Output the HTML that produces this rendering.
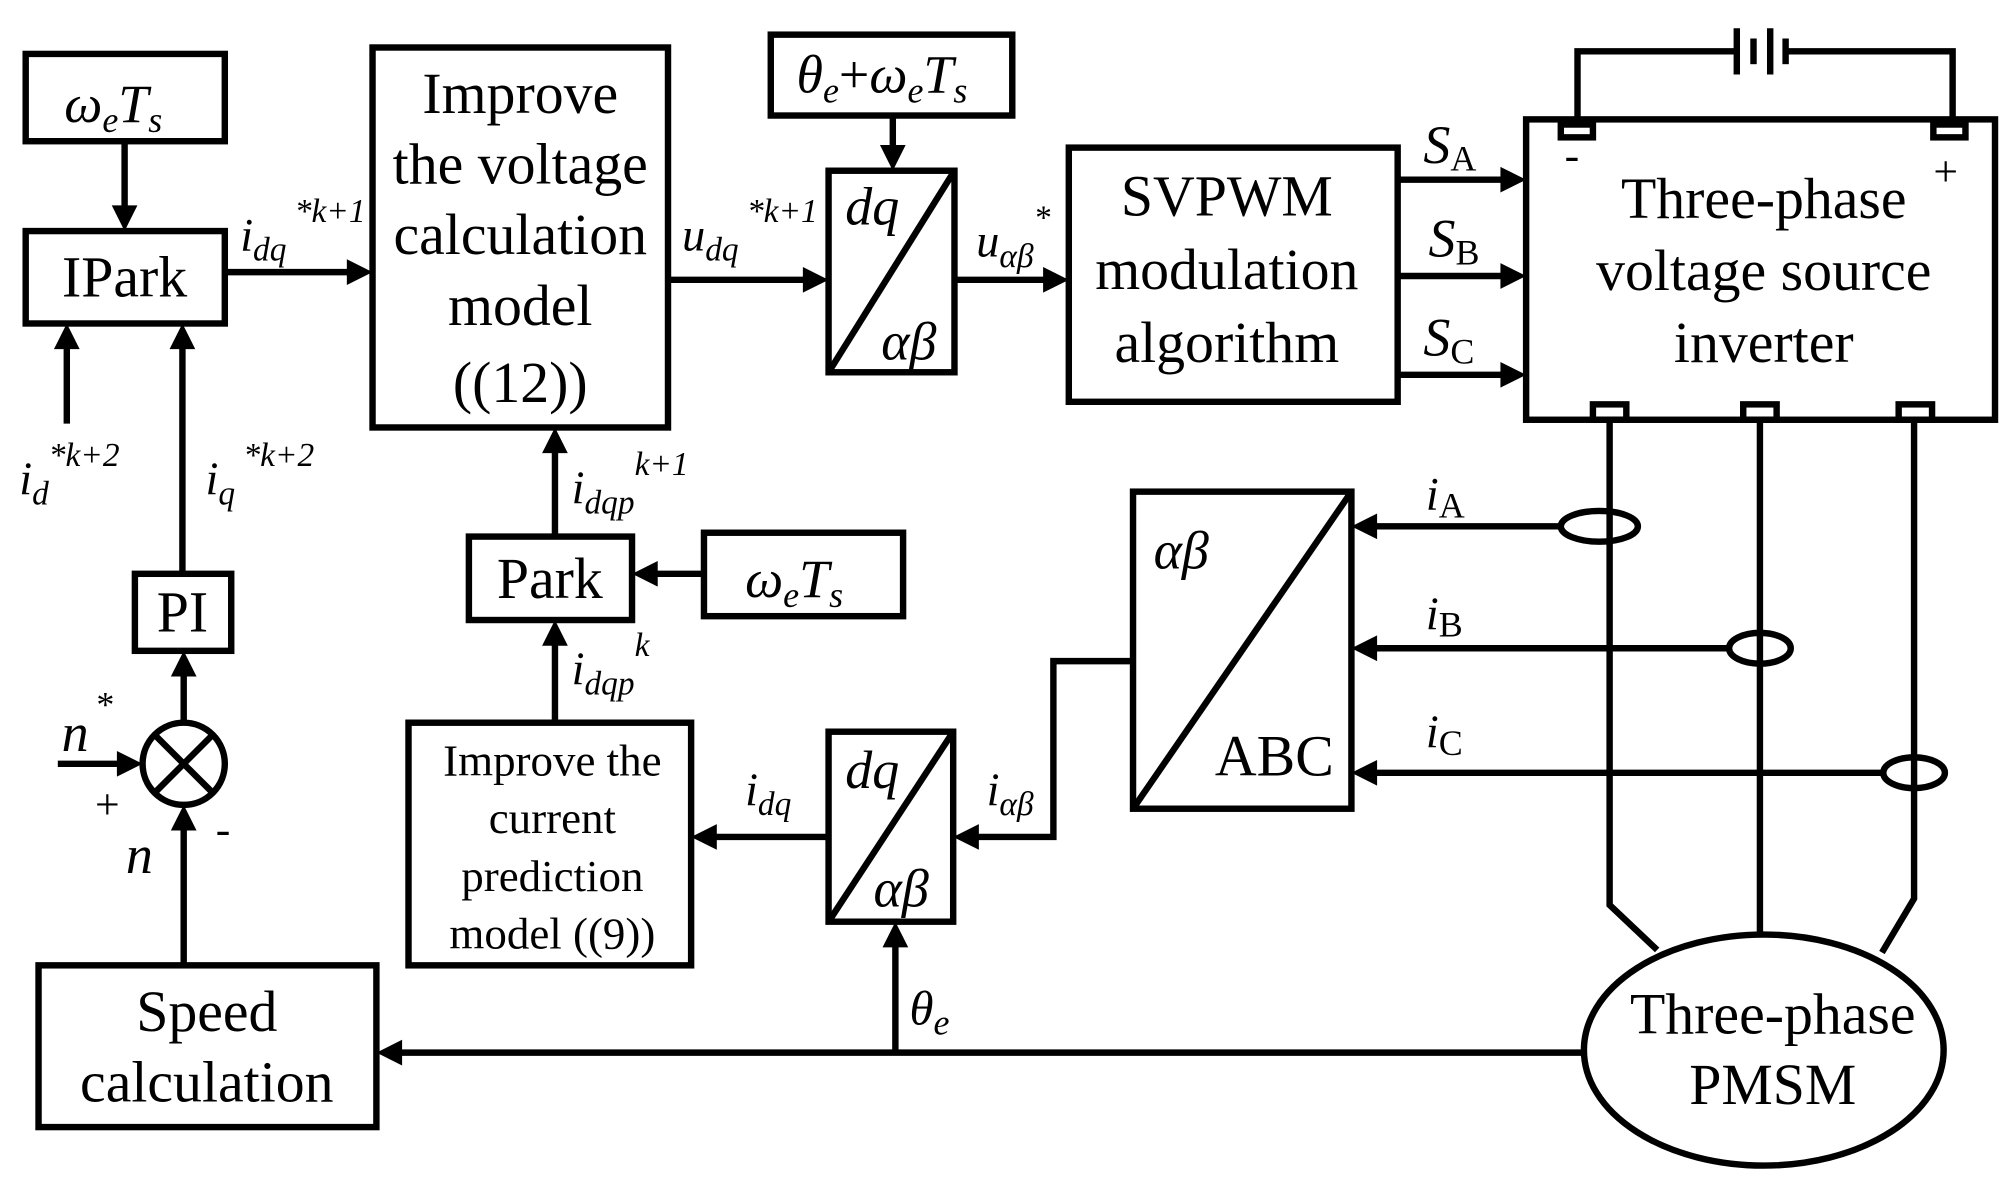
<!DOCTYPE html>
<html><head><meta charset="utf-8"><style>html,body{margin:0;padding:0;background:#fff}svg{display:block}</style></head>
<body>
<svg width="2004" height="1181" viewBox="0 0 1560 920" preserveAspectRatio="none" xmlns="http://www.w3.org/2000/svg" style="font-family:'Liberation Serif',serif">
<g fill="none" stroke="#000" stroke-width="5">
<rect x="20" y="42" width="155" height="68"/>
<rect x="20" y="180" width="155" height="72"/>
<rect x="105" y="447" width="75" height="60"/>
<circle cx="143" cy="595" r="32"/>
<line x1="120" y1="572" x2="166" y2="618"/><line x1="166" y1="572" x2="120" y2="618"/>
<rect x="30" y="752" width="263" height="126"/>
<rect x="290" y="37" width="230" height="296"/>
<rect x="645" y="133" width="98" height="157"/><line x1="645" y1="290" x2="743" y2="133"/>
<rect x="600" y="27" width="188" height="63"/>
<rect x="832" y="115" width="256" height="198"/>
<rect x="1188" y="93" width="365" height="234"/>
<rect x="1215" y="97" width="25" height="10"/><rect x="1505" y="97" width="25" height="10"/>
<rect x="1240" y="315" width="26" height="12"/><rect x="1357" y="315" width="26" height="12"/><rect x="1478" y="315" width="26" height="12"/>
<polyline points="1228,97 1228,40 1350,40"/><polyline points="1390,40 1520,40 1520,97"/>
<line x1="1352" y1="22" x2="1352" y2="58"/><line x1="1365" y1="30" x2="1365" y2="50"/><line x1="1378" y1="22" x2="1378" y2="58"/><line x1="1390" y1="30" x2="1390" y2="50"/>
<polyline points="1253,327 1253,705 1290,740"/>
<polyline points="1370,327 1370,728"/>
<polyline points="1490,327 1490,700 1465,742"/>
<ellipse cx="1373" cy="818" rx="140" ry="90"/>
<ellipse cx="1245" cy="410" rx="30" ry="12"/>
<ellipse cx="1370" cy="505" rx="24" ry="12"/>
<ellipse cx="1490" cy="602" rx="24" ry="12"/>
<rect x="882" y="383" width="170" height="247"/><line x1="882" y1="630" x2="1052" y2="383"/>
<rect x="645" y="570" width="97" height="148"/><line x1="645" y1="718" x2="742" y2="570"/>
<rect x="318" y="563" width="220" height="189"/>
<rect x="365" y="418" width="127" height="65"/>
<rect x="548" y="415" width="155" height="65"/>
<line x1="97" y1="110" x2="97" y2="165"/>
<line x1="52" y1="330" x2="52" y2="267"/>
<line x1="142" y1="447" x2="142" y2="267"/>
<line x1="143" y1="563" x2="143" y2="522"/>
<line x1="45" y1="595" x2="96" y2="595"/>
<line x1="143" y1="752" x2="143" y2="642"/>
<line x1="175" y1="212" x2="275" y2="212"/>
<line x1="520" y1="218" x2="630" y2="218"/>
<line x1="695" y1="90" x2="695" y2="118"/>
<line x1="743" y1="218" x2="815" y2="218"/>
<line x1="1088" y1="140" x2="1172" y2="140"/><line x1="1088" y1="215" x2="1172" y2="215"/><line x1="1088" y1="292" x2="1172" y2="292"/>
<line x1="1215" y1="410" x2="1067" y2="410"/><line x1="1346" y1="505" x2="1067" y2="505"/><line x1="1466" y1="602" x2="1067" y2="602"/>
<polyline points="882,515 820,515 820,652 757,652"/>
<line x1="645" y1="652" x2="553" y2="652"/>
<line x1="432" y1="563" x2="432" y2="498"/>
<line x1="548" y1="447" x2="507" y2="447"/>
<line x1="432" y1="418" x2="432" y2="348"/>
<line x1="1233" y1="820" x2="308" y2="820"/>
<line x1="697" y1="820" x2="697" y2="733"/>
</g>
<g fill="#000">
<path d="M87,160 L107,160 L97,180Z"/>
<path d="M42,272 L62,272 L52,252Z"/>
<path d="M132,272 L152,272 L142,252Z"/>
<path d="M133,527 L153,527 L143,507Z"/>
<path d="M91,585 L91,605 L111,595Z"/>
<path d="M133,647 L153,647 L143,627Z"/>
<path d="M270,202 L270,222 L290,212Z"/>
<path d="M625,208 L625,228 L645,218Z"/>
<path d="M685,113 L705,113 L695,133Z"/>
<path d="M812,208 L812,228 L832,218Z"/>
<path d="M1168,130 L1168,150 L1188,140Z"/><path d="M1168,205 L1168,225 L1188,215Z"/><path d="M1168,282 L1168,302 L1188,292Z"/>
<path d="M1072,400 L1072,420 L1052,410Z"/><path d="M1072,495 L1072,515 L1052,505Z"/><path d="M1072,592 L1072,612 L1052,602Z"/>
<path d="M762,642 L762,662 L742,652Z"/>
<path d="M558,642 L558,662 L538,652Z"/>
<path d="M422,503 L442,503 L432,483Z"/>
<path d="M512,437 L512,457 L492,447Z"/>
<path d="M422,353 L442,353 L432,333Z"/>
<path d="M313,810 L313,830 L293,820Z"/>
<path d="M687,738 L707,738 L697,718Z"/>
</g>
<g font-size="45" text-anchor="middle" fill="#000">
<text x="97" y="231">IPark</text>
<text x="142" y="492">PI</text>
<text x="161" y="803">Speed</text>
<text x="161" y="858">calculation</text>
<text x="405" y="88">Improve</text>
<text x="405" y="143">the voltage</text>
<text x="405" y="198">calculation</text>
<text x="405" y="253">model</text>
<text x="405" y="313">((12))</text>
<text x="955" y="168">SVPWM</text>
<text x="955" y="225">modulation</text>
<text x="955" y="282">algorithm</text>
<text x="1373" y="170">Three-phase</text>
<text x="1373" y="226">voltage source</text>
<text x="1373" y="282">inverter</text>
<text x="1380" y="805">Three-phase</text>
<text x="1380" y="860">PMSM</text>
<text x="428" y="466">Park</text>
<text x="992" y="604">ABC</text>
</g>
<g font-size="35" text-anchor="middle" fill="#000">
<text x="430" y="604">Improve the</text>
<text x="430" y="649">current</text>
<text x="430" y="694">prediction</text>
<text x="430" y="739">model ((9))</text>
</g>
<g font-size="42" font-style="italic" fill="#000">
<text x="50" y="95">ω<tspan font-size="28" dy="8">e</tspan><tspan dy="-8">T</tspan><tspan font-size="28" dy="8">s</tspan></text>
<text x="580" y="465">ω<tspan font-size="28" dy="8">e</tspan><tspan dy="-8">T</tspan><tspan font-size="28" dy="8">s</tspan></text>
<text x="620" y="72">θ<tspan font-size="28" dy="8">e</tspan><tspan dy="-8" font-style="normal">+</tspan>ω<tspan font-size="28" dy="8">e</tspan><tspan dy="-8">T</tspan><tspan font-size="28" dy="8">s</tspan></text>
<text x="658" y="175">dq</text><text x="686" y="280">αβ</text>
<text x="658" y="614">dq</text><text x="680" y="706">αβ</text>
<text x="898" y="443">αβ</text>
<text x="1108" y="127">S<tspan font-style="normal" font-size="28" dy="6">A</tspan></text>
<text x="1112" y="200">S<tspan font-style="normal" font-size="28" dy="6">B</tspan></text>
<text x="1108" y="277">S<tspan font-style="normal" font-size="28" dy="6">C</tspan></text>
<text x="1110" y="397" font-size="36">i<tspan font-style="normal" font-size="28" dy="6">A</tspan></text>
<text x="1110" y="490" font-size="36">i<tspan font-style="normal" font-size="28" dy="6">B</tspan></text>
<text x="1110" y="582" font-size="36">i<tspan font-style="normal" font-size="28" dy="6">C</tspan></text>
<text x="708" y="798" font-size="38">θ<tspan font-size="28" dy="8">e</tspan></text>
<text x="98" y="680">n</text>
<text x="48" y="585">n</text><text x="75" y="558" font-size="28" font-style="normal">*</text>
</g>
<g font-style="italic" fill="#000">
<text x="187" y="195" font-size="36">i<tspan font-size="26" dy="8">dq</tspan><tspan font-size="26" dy="-30"> *k+1</tspan></text>
<text x="531" y="195" font-size="36">u<tspan font-size="26" dy="8">dq</tspan><tspan font-size="26" dy="-30"> *k+1</tspan></text>
<text x="760" y="200" font-size="36">u<tspan font-size="26" dy="8">αβ</tspan><tspan font-size="26" dy="-30">*</tspan></text>
<text x="15" y="385" font-size="36">i<tspan font-size="26" dy="8">d</tspan><tspan font-size="26" dy="-30">*k+2</tspan></text>
<text x="160" y="385" font-size="36">i<tspan font-size="26" dy="8">q</tspan><tspan font-size="26" dy="-30"> *k+2</tspan></text>
<text x="445" y="392" font-size="36">i<tspan font-size="26" dy="8">dqp</tspan><tspan font-size="26" dy="-30">k+1</tspan></text>
<text x="445" y="533" font-size="36">i<tspan font-size="26" dy="8">dqp</tspan><tspan font-size="26" dy="-30">k</tspan></text>
<text x="580" y="627" font-size="36">i<tspan font-size="26" dy="8">dq</tspan></text>
<text x="768" y="627" font-size="36">i<tspan font-size="26" dy="8">αβ</tspan></text>
</g>
<g font-size="34" fill="#000">
<text x="74" y="638">+</text><text x="168" y="657">-</text>
<text x="1218" y="132">-</text><text x="1505" y="145">+</text>
</g>
</svg>
</body></html>
